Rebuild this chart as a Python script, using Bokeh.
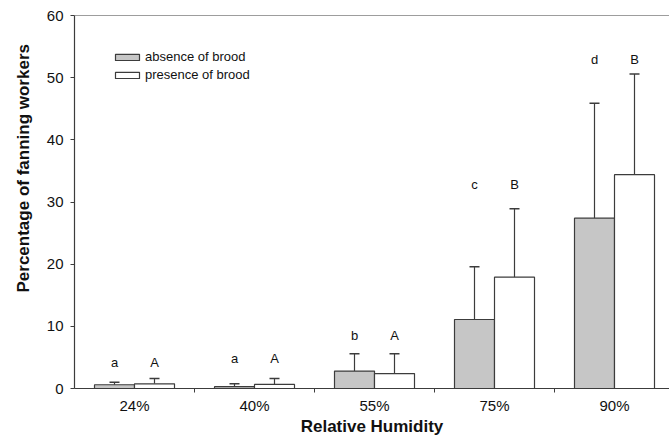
import numpy as np
from bokeh.plotting import figure
from bokeh.models import (ColumnDataSource, FixedTicker, Whisker, TeeHead, Span,
                          Title, Legend, LegendItem, Range1d)
from bokeh.embed import file_html
from bokeh.resources import INLINE
from bokeh.core.properties import value

# ---- data ----
categories = ["24%", "40%", "55%", "75%", "90%"]
absence_mean = [0.6, 0.3, 2.8, 11.1, 27.4]
absence_upper = [1.0, 0.75, 5.6, 19.6, 45.9]
presence_mean = [0.75, 0.65, 2.4, 17.9, 34.4]
presence_upper = [1.6, 1.6, 5.6, 28.9, 50.6]
absence_letters = ["a", "a", "b", "c", "d"]
presence_letters = ["A", "A", "A", "B", "B"]
letter_heights = [4.2, 4.9, 8.6, 32.8, 52.9]
y_ticks = [0, 10, 20, 30, 40, 50, 60]

FONT = "Liberation Sans"
AXIS = "#3c3c3c"
GRAY = "#c6c6c6"
TXT = "#111111"

n = len(categories)
centers = [i + 0.5 for i in range(n)]
bw = 1 / 3
x_abs = [c - bw / 2 for c in centers]
x_pre = [c + bw / 2 for c in centers]

p = figure(width=669, height=438, x_range=Range1d(0, 595 / 120), y_range=Range1d(0, 60),
           output_backend="svg", toolbar_location=None,
           min_border_left=74, min_border_right=0, min_border_top=15, min_border_bottom=50)
p.outline_line_color = None
p.grid.visible = False
p.background_fill_color = "white"
p.border_fill_color = "white"

src_a = ColumnDataSource(dict(x=x_abs, top=absence_mean, up=absence_upper))
src_p = ColumnDataSource(dict(x=x_pre, top=presence_mean, up=presence_upper))

ra = p.vbar(x="x", top="top", bottom=0, width=bw, source=src_a,
            fill_color=GRAY, line_color=AXIS, line_width=1.2)
rp = p.vbar(x="x", top="top", bottom=0, width=bw, source=src_p,
            fill_color="white", line_color=AXIS, line_width=1.2)

for src in (src_a, src_p):
    w = Whisker(base="x", lower="top", upper="up", source=src, dimension="height",
                line_color=AXIS, line_width=1.2,
                upper_head=TeeHead(size=10, line_color=AXIS, line_width=1.5),
                lower_head=None, level="underlay")
    p.add_layout(w)

p.text(x=x_abs, y=letter_heights, text=absence_letters, text_align="center",
       text_baseline="middle", text_font=value(FONT), text_font_size="13px", text_color=TXT)
p.text(x=x_pre, y=letter_heights, text=presence_letters, text_align="center",
       text_baseline="middle", text_font=value(FONT), text_font_size="13px", text_color=TXT)

p.add_layout(Span(location=60, dimension="width", line_color=AXIS, line_width=1.2))

# x axis
xa = p.xaxis[0]
xa.ticker = FixedTicker(ticks=centers, minor_ticks=[1, 2, 3, 4])
xa.major_label_overrides = {c: lab for c, lab in zip(centers, categories)}
xa.major_tick_line_color = None
xa.minor_tick_line_color = AXIS
xa.minor_tick_out = 4
xa.minor_tick_in = 0
xa.axis_line_color = AXIS
xa.axis_line_width = 1.2
xa.major_label_standoff = 2
xa.major_label_text_font = FONT
xa.major_label_text_font_size = "15px"
xa.major_label_text_color = TXT
xa.axis_label = "Relative Humidity"
xa.axis_label_text_font = FONT
xa.axis_label_text_font_size = "17px"
xa.axis_label_text_font_style = "bold"
xa.axis_label_text_color = TXT
xa.axis_label_standoff = 0

# y axis
ya = p.yaxis[0]
ya.ticker = FixedTicker(ticks=y_ticks, minor_ticks=[])
ya.major_tick_out = 4
ya.major_tick_in = 0
ya.major_tick_line_color = AXIS
ya.minor_tick_line_color = None
ya.axis_line_color = AXIS
ya.axis_line_width = 1.2
ya.major_label_standoff = 7
ya.major_label_text_font = FONT
ya.major_label_text_font_size = "15px"
ya.major_label_text_color = TXT

p.add_layout(Title(text="Percentage of fanning workers", align="left", offset=96,
                   standoff=22, text_font=FONT, text_font_size="17px",
                   text_font_style="bold", text_color=TXT), "left")

legend = Legend(items=[LegendItem(label="absence of brood", renderers=[ra]),
                       LegendItem(label="presence of brood", renderers=[rp])],
                location=(38, 306), padding=0, margin=0, border_line_color=None,
                background_fill_alpha=0, glyph_width=30, glyph_height=8,
                label_height=14, spacing=3, label_standoff=3,
                label_text_font=FONT, label_text_font_size="13px", label_text_color=TXT)
p.add_layout(legend)

open("out.html", "w").write(file_html(p, INLINE))
